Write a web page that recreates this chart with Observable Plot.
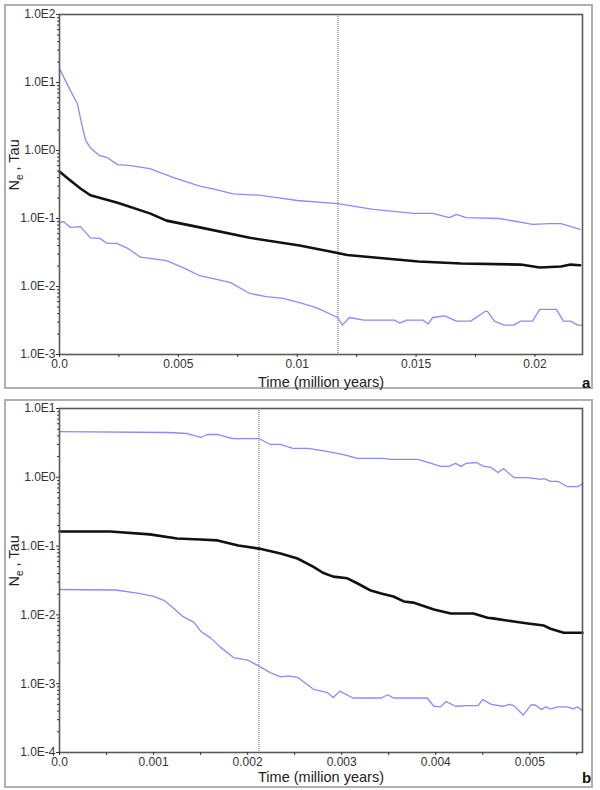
<!DOCTYPE html>
<html>
<head>
<meta charset="utf-8">
<script src="https://cdn.jsdelivr.net/npm/d3@7"></script>
<script src="https://cdn.jsdelivr.net/npm/@observablehq/plot@0.6"></script>
<style>
  html, body { margin: 0; padding: 0; background: #fff; }
  #root { position: relative; width: 600px; height: 790px; overflow: hidden; font-family: "Liberation Sans", Arial, sans-serif; }
  .frame { position: absolute; border: 2px solid #b0b0b0; box-sizing: border-box; }
  .panel { position: absolute; left: 0; }
  .tag { position: absolute; font-weight: bold; font-size: 15px; color: #111; }
</style>
</head>
<body>
<div id="root">
  <div class="frame" style="left:4px;top:4px;width:589px;height:385px;"></div>
  <div class="frame" style="left:4px;top:399px;width:589px;height:389px;"></div>
  <div class="panel" id="pa" style="top:0px;"></div>
  <div class="panel" id="pb" style="top:395px;"></div>
  <div class="tag" style="left:582px;top:374px;">a</div>
  <div class="tag" style="left:582px;top:769px;">b</div>
</div>
<script>
// ---------- Panel a data (time in million years) ----------
const aUpperT = [0, 0.00046, 0.00075, 0.00095, 0.0011, 0.0013, 0.0015, 0.0017, 0.0020, 0.00244, 0.0030, 0.0038, 0.0048, 0.0059, 0.0065, 0.0073, 0.0084, 0.0093, 0.0100, 0.0117, 0.0132, 0.0149, 0.0157, 0.0164, 0.0167, 0.0171, 0.0185, 0.0199, 0.0206, 0.0211, 0.0219];
const aUpperV = [16, 7.6, 4.9, 2.33, 1.4, 1.1, 0.95, 0.84, 0.79, 0.62, 0.60, 0.54, 0.40, 0.30, 0.27, 0.23, 0.22, 0.20, 0.184, 0.166, 0.136, 0.119, 0.119, 0.103, 0.115, 0.103, 0.100, 0.082, 0.084, 0.084, 0.069];

const aMedianT = [0, 0.00034, 0.00088, 0.0013, 0.0021, 0.00244, 0.0038, 0.0045, 0.0059, 0.0080, 0.0101, 0.0117, 0.0121, 0.0136, 0.0151, 0.0169, 0.0194, 0.0202, 0.0211, 0.0215, 0.0219];
const aMedianV = [0.49, 0.39, 0.276, 0.22, 0.184, 0.17, 0.119, 0.093, 0.074, 0.052, 0.040, 0.031, 0.029, 0.026, 0.0233, 0.0218, 0.021, 0.019, 0.0197, 0.021, 0.0205];

const aLowerT = [0, 0.00017, 0.00046, 0.00088, 0.0013, 0.0017, 0.0020, 0.0024, 0.0029, 0.0034, 0.0038, 0.0045, 0.0052, 0.0059, 0.0068, 0.0072, 0.0080, 0.0087, 0.0094, 0.0101, 0.0108, 0.0117, 0.0119, 0.0122, 0.0128, 0.0141, 0.0143, 0.0146, 0.0153, 0.0155, 0.0157, 0.0162, 0.0167, 0.0173, 0.0179, 0.0180, 0.0183, 0.0187, 0.0191, 0.0194, 0.0199, 0.0202, 0.0209, 0.0212, 0.0215, 0.0218, 0.0220];
const aLowerV = [0.087, 0.09, 0.074, 0.076, 0.052, 0.051, 0.043, 0.043, 0.036, 0.027, 0.026, 0.024, 0.019, 0.0144, 0.0123, 0.0114, 0.0079, 0.0071, 0.0067, 0.0058, 0.0049, 0.0035, 0.0027, 0.0035, 0.0032, 0.0032, 0.0029, 0.0032, 0.0032, 0.0028, 0.0035, 0.0037, 0.0031, 0.0031, 0.0043, 0.0043, 0.0031, 0.0027, 0.0027, 0.0031, 0.0031, 0.0046, 0.0046, 0.0031, 0.0031, 0.0027, 0.0027];

const aMarker = [0.01171];
const aXTicks = [0, 0.005, 0.01, 0.015, 0.02];
const aXLabels = ["0.0", "0.005", "0.01", "0.015", "0.02"];
const aXMinor = [0.0025, 0.0075, 0.0125, 0.0175, 0.0225];
const aYTicks = [1e-3, 1e-2, 1e-1, 1, 10, 100];
const aYLabels = ["1.0E-3", "1.0E-2", "1.0E-1", "1.0E0", "1.0E1", "1.0E2"];

// ---------- Panel b data ----------
const bUpperT = [0, 0.00115, 0.00136, 0.0015, 0.00157, 0.00168, 0.00179, 0.00185, 0.00212, 0.00224, 0.00235, 0.00248, 0.00264, 0.00278, 0.00291, 0.00302, 0.00317, 0.00334, 0.00344, 0.00352, 0.00381, 0.00395, 0.00405, 0.00414, 0.00421, 0.00427, 0.00432, 0.00443, 0.00451, 0.00459, 0.00466, 0.00472, 0.00483, 0.00498, 0.00512, 0.00515, 0.00522, 0.0053, 0.0054, 0.00551, 0.00556];
const bUpperV = [4.6, 4.48, 4.33, 3.79, 4.19, 4.19, 3.79, 3.66, 3.66, 3.0, 3.0, 2.63, 2.63, 2.46, 2.29, 2.14, 1.88, 1.88, 1.88, 1.82, 1.82, 1.59, 1.44, 1.44, 1.59, 1.44, 1.59, 1.64, 1.44, 1.39, 1.17, 1.34, 0.99, 0.99, 0.93, 0.96, 0.87, 0.87, 0.73, 0.73, 0.81];

const bMedianT = [0, 0.00054, 0.00096, 0.00125, 0.0015, 0.00168, 0.0019, 0.00212, 0.00235, 0.00253, 0.0027, 0.0028, 0.00291, 0.00306, 0.00317, 0.00331, 0.00342, 0.00355, 0.00366, 0.00376, 0.00398, 0.00416, 0.0044, 0.00455, 0.00461, 0.00483, 0.00498, 0.00515, 0.00522, 0.00536, 0.00556];
const bMedianV = [0.163, 0.163, 0.148, 0.129, 0.125, 0.121, 0.102, 0.092, 0.078, 0.066, 0.050, 0.041, 0.036, 0.034, 0.0286, 0.0226, 0.0205, 0.0185, 0.0157, 0.0151, 0.012, 0.0105, 0.0105, 0.0091, 0.0089, 0.0080, 0.0075, 0.0070, 0.0063, 0.0055, 0.0055];

const bLowerT = [0, 0.0006, 0.00086, 0.001, 0.00111, 0.00122, 0.00131, 0.00143, 0.0015, 0.00161, 0.00171, 0.00185, 0.002, 0.00212, 0.00224, 0.00235, 0.00243, 0.00253, 0.0027, 0.00285, 0.00291, 0.00298, 0.00312, 0.00342, 0.00349, 0.00355, 0.00391, 0.00398, 0.00405, 0.00411, 0.00421, 0.00434, 0.00445, 0.0045, 0.00459, 0.00471, 0.00478, 0.00483, 0.00493, 0.00501, 0.00506, 0.00512, 0.00517, 0.00522, 0.0053, 0.0054, 0.00546, 0.00551, 0.00556];
const bLowerV = [0.0234, 0.023, 0.0204, 0.0186, 0.0163, 0.0123, 0.0095, 0.0078, 0.0058, 0.0046, 0.0034, 0.0024, 0.0022, 0.0018, 0.00145, 0.00126, 0.0013, 0.00124, 0.00083, 0.00074, 0.00063, 0.00078, 0.00062, 0.00062, 0.00069, 0.00062, 0.00062, 0.00047, 0.00046, 0.00055, 0.00047, 0.00048, 0.00048, 0.00059, 0.0005, 0.00047, 0.0005, 0.00048, 0.00035, 0.00049, 0.00049, 0.00042, 0.00046, 0.00043, 0.00046, 0.00046, 0.00043, 0.00046, 0.0004];

const bMarker = [0.00212];
const bXTicks = [0, 0.001, 0.002, 0.003, 0.004, 0.005];
const bXLabels = ["0.0", "0.001", "0.002", "0.003", "0.004", "0.005"];
const bXMinor = [0.0005, 0.0015, 0.0025, 0.0035, 0.0045, 0.0055];
const bYTicks = [1e-4, 1e-3, 1e-2, 1e-1, 1, 10];
const bYLabels = ["1.0E-4", "1.0E-3", "1.0E-2", "1.0E-1", "1.0E0", "1.0E1"];

const xTitle = "Time (million years)";
const yTitle = "Ne , Tau";
const BLUE = "#8a8aff";

function pts(T, V) { return T.map((t, i) => ({t, v: V[i]})); }
function minorLog(ticks) {
  const out = [];
  for (let i = 0; i < ticks.length - 1; i++) for (let k = 2; k <= 9; k++) out.push(ticks[i] * k);
  return out;
}

function panel(el, o) {
  const svg = Plot.plot({
    width: 600,
    height: 395,
    marginLeft: 59,
    marginRight: 18,
    marginTop: o.mt,
    marginBottom: 395 - o.mt - o.ph,
    x: {domain: o.xDomain},
    y: {type: "log", domain: o.yDomain},
    style: {fontFamily: "'Liberation Sans', Arial, sans-serif", fontSize: "12px", color: "#333", background: "transparent"},
    marks: [
      Plot.ruleX(o.marker, {stroke: "#666", strokeWidth: 1, strokeDasharray: "1,1"}),
      Plot.line(pts(o.upT, o.upV), {x: "t", y: "v", stroke: BLUE, strokeWidth: 1.3}),
      Plot.line(pts(o.loT, o.loV), {x: "t", y: "v", stroke: BLUE, strokeWidth: 1.3}),
      Plot.line(pts(o.mdT, o.mdV), {x: "t", y: "v", stroke: "#111", strokeWidth: 2.6}),
      Plot.frame({stroke: "#5a5a5a", strokeWidth: 1.6}),
      Plot.axisY(o.yTicks, {tickSize: 3, tickPadding: 1, label: null, fontSize: 12, tickFormat: d => o.yLabels[o.yTicks.indexOf(d)]}),
      Plot.axisY(minorLog(o.yTicks), {tickSize: 2, label: null, tickFormat: () => ""}),
      Plot.axisX(o.xTicks, {tickSize: 3, tickPadding: 2, label: null, fontSize: 12, tickFormat: d => o.xLabels[o.xTicks.indexOf(d)]}),
      Plot.axisX(o.xMinor.filter(d => d <= o.xDomain[1]), {tickSize: 3, label: null, tickFormat: () => ""}),
      Plot.text([xTitle], {frameAnchor: "bottom", dy: o.xtDy, text: d => d, fontSize: 14.5, fill: "#222", lineAnchor: "middle"}),
      Plot.text([yTitle], {frameAnchor: "left", dx: -45, dy: o.ytDy, rotate: -90, text: d => d, fontSize: 14.5, fill: "#222", lineAnchor: "middle"})
    ]
  });
  // subscript "e" in N_e
  svg.querySelectorAll("text").forEach(t => {
    if (t.textContent === yTitle) {
      t.textContent = "";
      const ns = "http://www.w3.org/2000/svg";
      const a = document.createElementNS(ns, "tspan"); a.textContent = "N";
      const b = document.createElementNS(ns, "tspan"); b.textContent = "e"; b.setAttribute("dy", "4"); b.setAttribute("font-size", "10");
      const c = document.createElementNS(ns, "tspan"); c.textContent = " , Tau"; c.setAttribute("dy", "-4");
      t.append(a, b, c);
    }
  });
  document.getElementById(el).appendChild(svg);
}

panel("pa", {
  mt: 14, ph: 340, xDomain: [0, 0.022], yDomain: [1e-3, 1e2],
  upT: aUpperT, upV: aUpperV, mdT: aMedianT, mdV: aMedianV, loT: aLowerT, loV: aLowerV,
  marker: aMarker, xTicks: aXTicks, xLabels: aXLabels, xMinor: aXMinor, yTicks: aYTicks, yLabels: aYLabels,
  xtDy: 28, ytDy: 6
});
panel("pb", {
  mt: 13, ph: 344, xDomain: [0, 0.00556], yDomain: [1e-4, 1e1],
  upT: bUpperT, upV: bUpperV, mdT: bMedianT, mdV: bMedianV, loT: bLowerT, loV: bLowerV,
  marker: bMarker, xTicks: bXTicks, xLabels: bXLabels, xMinor: bXMinor, yTicks: bYTicks, yLabels: bYLabels,
  xtDy: 25, ytDy: 6
});
</script>
</body>
</html>
